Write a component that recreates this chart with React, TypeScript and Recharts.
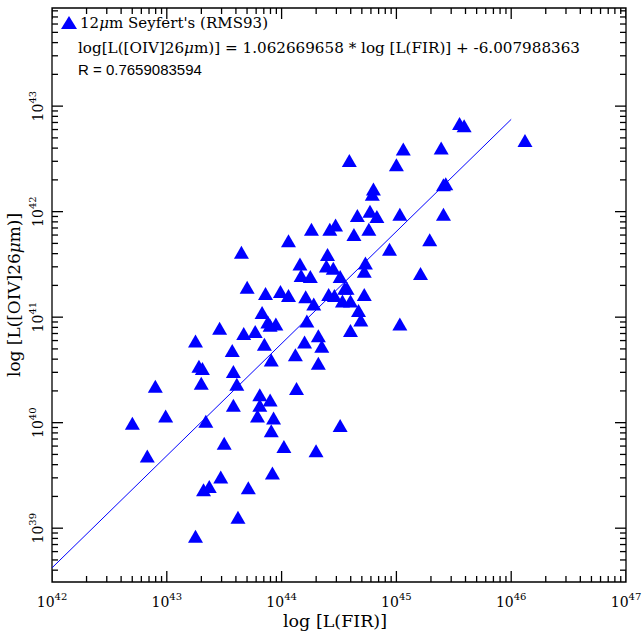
import React from 'react';
import { ComposedChart, Scatter, XAxis, YAxis, ReferenceLine, ReferenceArea } from 'recharts';

// log10 L(FIR) and log10 L([OIV]26um)
const logFIR = [
  42.70, 42.83, 42.90, 42.99, 43.25, 43.25, 43.28, 43.31, 43.30, 43.32, 43.34, 43.37, 43.46, 43.47, 43.50,
  43.57, 43.58, 43.58, 43.61, 43.62, 43.65, 43.70, 43.71, 43.67, 43.77, 43.79, 43.81, 43.81, 43.83, 43.85,
  43.86, 43.90, 43.88, 43.90, 43.91, 43.91, 43.93, 43.92, 43.95, 43.99, 44.02, 44.06, 44.06, 44.12, 44.13,
  44.16, 44.17, 44.20, 44.21, 44.22, 44.25, 44.26, 44.28, 44.30, 44.32, 44.32, 44.35, 44.39, 44.40, 44.42,
  44.41, 44.45, 44.46, 44.47, 44.51, 44.51, 44.53, 44.55, 44.59, 44.57, 44.60, 44.60, 44.63, 44.66, 44.67,
  44.69, 44.72, 44.72, 44.73, 44.76, 44.77, 44.79, 44.80, 44.83, 44.94, 45.00, 45.03, 45.03, 45.06, 45.21,
  45.29, 45.39, 45.41, 45.41, 45.43, 45.55, 45.59, 46.12,
];
const logOIV = [
  39.98, 39.67, 40.33, 40.05, 40.76, 38.91, 40.52, 40.50, 40.36, 39.35, 40.00, 39.38, 40.88, 39.47, 39.79,
  40.67, 40.47, 40.15, 40.35, 39.09, 41.60, 41.27, 39.37, 40.83, 40.85, 40.05, 40.15, 40.25, 41.03, 40.73,
  41.21, 40.20, 40.94, 40.91, 40.58, 39.91, 40.03, 39.51, 40.92, 41.23, 39.76, 41.71, 41.19, 40.63, 40.31,
  41.49, 41.38, 40.75, 41.18, 40.95, 41.37, 41.82, 41.11, 39.72, 40.55, 40.81, 40.71, 41.47, 41.58, 41.82,
  41.20, 41.45, 41.19, 41.86, 41.37, 39.96, 41.14, 41.26, 42.47, 41.26, 40.86, 41.14, 41.77, 41.95, 41.05,
  40.96, 41.42, 41.20, 41.50, 41.82, 41.99, 42.15, 42.20, 41.94, 41.63, 42.43, 40.92, 41.96, 42.58, 41.40,
  41.72, 42.59, 41.96, 42.24, 42.25, 42.82, 42.80, 42.66,
];
const slope = 1.062669658;
const intercept = -6.007988363;
const fitRange = [42.0, 46.0];
const xMajor = [42, 43, 44, 45, 46, 47];
const yMajor = [39, 40, 41, 42, 43];
const xDom: [number, number] = [42, 47];
const yDom: [number, number] = [38.49, 43.93];

const box = { l: 52, r: 626, t: 8, b: 582 };

const points = logFIR.map((x, i) => ({ x, y: logOIV[i] }));
const minor = (lo: number, hi: number) => {
  const t: number[] = [];
  for (let d = Math.floor(lo); d < hi; d++) for (let k = 2; k <= 9; k++) {
    const v = d + Math.log10(k);
    if (v > lo && v < hi) t.push(v);
  }
  return t;
};

// tick marks as a scatter series on the frame edges
const tickMarks: { x: number; y: number; side: string; len: number }[] = [];
[...xMajor.map((v) => [v, 11]), ...minor(xDom[0], xDom[1]).map((v) => [v, 6])].forEach(([v, len]) => {
  tickMarks.push({ x: v, y: yDom[0], side: 'b', len });
  tickMarks.push({ x: v, y: yDom[1], side: 't', len });
});
[...yMajor.map((v) => [v, 11]), ...minor(yDom[0], yDom[1]).map((v) => [v, 6])].forEach(([v, len]) => {
  tickMarks.push({ x: xDom[0], y: v, side: 'l', len });
  tickMarks.push({ x: xDom[1], y: v, side: 'r', len });
});

const TickMark = (p: any) => {
  const { cx, cy, payload } = p;
  const { side, len } = payload;
  const d =
    side === 'b' ? `M${cx},${cy}V${cy - len}` :
    side === 't' ? `M${cx},${cy}V${cy + len}` :
    side === 'l' ? `M${cx},${cy}H${cx + len}` : `M${cx},${cy}H${cx - len}`;
  return <path d={d} stroke="#000" strokeWidth={1.3} fill="none" />;
};

const Tri = (p: any) => {
  const { cx, cy } = p;
  return <polygon points={`${cx},${cy - 8} ${cx - 7.5},${cy + 5} ${cx + 7.5},${cy + 5}`} fill="#0000ff" />;
};

const PowTick = (p: any) => {
  const { x, y, payload, axis } = p;
  const font = { fontFamily: 'DejaVu Serif', fill: '#000' };
  if (axis === 'x')
    return (
      <text x={x} y={box.b + 25} textAnchor="middle" {...font} fontSize={14}>
        10<tspan dy={-7} fontSize={10}>{payload.value}</tspan>
      </text>
    );
  return (
    <g transform={`rotate(-90 ${box.l - 14} ${y})`}>
      <text x={box.l - 14} y={y + 5} textAnchor="middle" {...font} fontSize={14}>
        10<tspan dy={-7} fontSize={10}>{payload.value}</tspan>
      </text>
    </g>
  );
};

export default function App() {
  const fit = fitRange.map((x) => ({ x, y: slope * x + intercept }));
  return (
    <div style={{ position: 'absolute', left: 0, top: 0, width: 643, height: 632, background: '#fff' }}>
      <ComposedChart width={643} height={632} margin={{ top: 8, right: 17, bottom: 0, left: 0 }}>
        <XAxis xAxisId="b" type="number" dataKey="x" domain={xDom} ticks={xMajor} height={50}
          axisLine={false} tickLine={false} tick={<PowTick axis="x" />} interval={0} allowDataOverflow />
        <YAxis yAxisId="l" type="number" dataKey="y" domain={yDom} ticks={yMajor} width={52}
          axisLine={false} tickLine={false} tick={<PowTick axis="y" />} interval={0} allowDataOverflow />
        <ReferenceArea xAxisId="b" yAxisId="l" x1={xDom[0]} x2={xDom[1]} y1={yDom[0]} y2={yDom[1]}
          fill="none" fillOpacity={0} stroke="#000" strokeWidth={1.3} />
        <ReferenceLine xAxisId="b" yAxisId="l" segment={fit} stroke="#0000ff" strokeWidth={1} />
        <Scatter xAxisId="b" yAxisId="l" data={tickMarks} shape={<TickMark />} isAnimationActive={false} />
        <Scatter xAxisId="b" yAxisId="l" data={points} shape={<Tri />} isAnimationActive={false} />
      </ComposedChart>
      <svg width={643} height={632} style={{ position: 'absolute', left: 0, top: 0, pointerEvents: 'none' }}>
        <polygon points="69,16 61,29 77,29" fill="#0000ff" />
        <text x={80} y={28} fontSize={15} fontFamily="DejaVu Serif" textLength={188} lengthAdjust="spacing">12<tspan fontStyle="italic">μ</tspan>m Seyfert's (RMS93)</text>
        <text x={78} y={53} fontSize={15} fontFamily="DejaVu Serif" textLength={502} lengthAdjust="spacingAndGlyphs">log[L([OIV]26<tspan fontStyle="italic">μ</tspan>m)] = 1.062669658 * log [L(FIR)] + -6.007988363</text>
        <text x={78} y={75} fontSize={15} fontFamily="Liberation Sans">R = 0.7659083594</text>
        <text x={335} y={627} fontSize={17} textAnchor="middle" fontFamily="DejaVu Serif" textLength={104} lengthAdjust="spacingAndGlyphs">log [L(FIR)]</text>
        <text x={0} y={0} fontSize={17} textAnchor="middle" fontFamily="DejaVu Serif" transform="translate(20 295) rotate(-90)" textLength={164} lengthAdjust="spacingAndGlyphs">log [L([OIV]26<tspan fontStyle="italic">μ</tspan>m)]</text>
      </svg>
    </div>
  );
}
